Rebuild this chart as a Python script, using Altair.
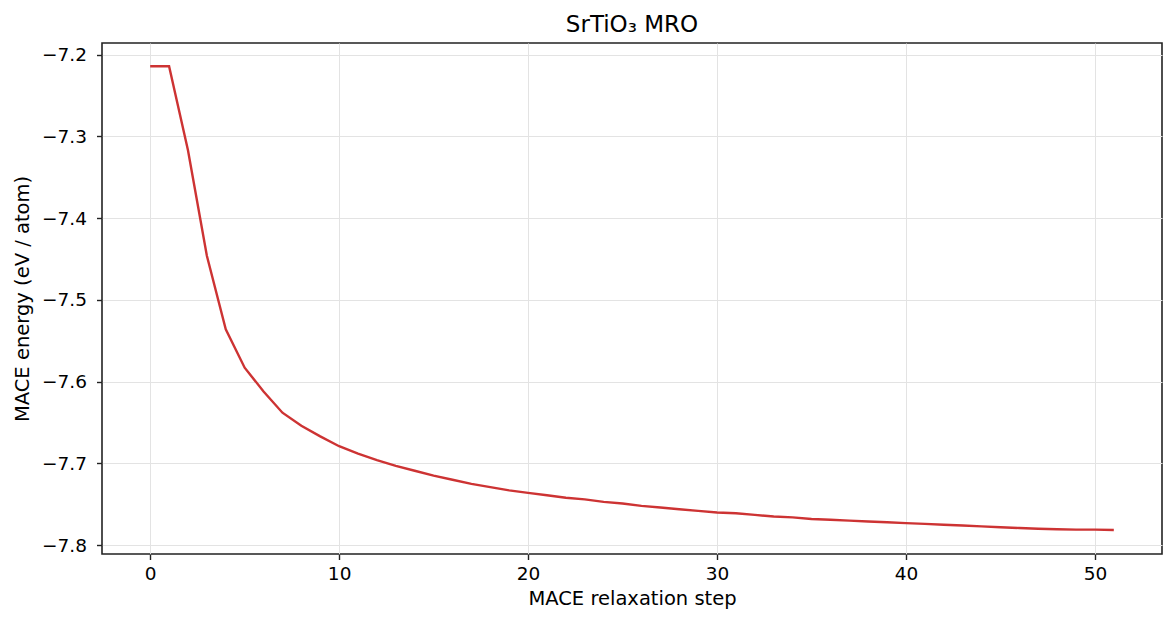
import altair as alt
import pandas as pd

# MACE relaxation trajectory: energy per atom at each optimizer step
steps = list(range(52))
energy = [
    -7.2143, -7.2143, -7.317, -7.446, -7.536, -7.583, -7.612, -7.638, -7.654, -7.667,
    -7.679, -7.688, -7.696, -7.703, -7.709, -7.715, -7.720, -7.725, -7.729, -7.733,
    -7.736, -7.739, -7.742, -7.744, -7.747, -7.749, -7.752, -7.754, -7.756, -7.758,
    -7.760, -7.761, -7.763, -7.765, -7.766, -7.768, -7.769, -7.770, -7.771, -7.772,
    -7.773, -7.774, -7.775, -7.776, -7.777, -7.778, -7.779, -7.780, -7.7805, -7.781,
    -7.781, -7.7815,
]
x_ticks = [0, 10, 20, 30, 40, 50]
y_ticks = [-7.8, -7.7, -7.6, -7.5, -7.4, -7.3, -7.2]

df = pd.DataFrame({"step": steps, "energy": energy})

font = "DejaVu Sans"

chart = (
    alt.Chart(df, title=alt.Title("SrTiO₃ MRO", fontSize=23, fontWeight="normal",
                                  font=font, color="#000", offset=6))
    .mark_line(color="#cd3333", strokeWidth=2.4)
    .encode(
        x=alt.X("step:Q",
                scale=alt.Scale(domain=[-2.55, 53.55], nice=False, zero=False),
                axis=alt.Axis(title="MACE relaxation step", values=x_ticks, format="d",
                              labelPadding=5, titlePadding=6)),
        y=alt.Y("energy:Q",
                scale=alt.Scale(domain=[-7.8108, -7.1859], nice=False, zero=False),
                axis=alt.Axis(title="MACE energy (eV / atom)", values=y_ticks, format=".1f",
                              labelPadding=10, titlePadding=9)),
    )
    .properties(width=1060, height=511,
                autosize=alt.AutoSizeParams(type="none"),
                padding={"left": 102, "top": 43, "right": 13, "bottom": 73})
    .configure_view(stroke="#222", strokeWidth=1.6)
    .configure_axis(
        labelFont=font, labelFontSize=18.5, labelColor="#000",
        titleFont=font, titleFontSize=19.5, titleFontWeight="normal", titleColor="#000",
        tickColor="#222", tickSize=5.5, tickWidth=1.4,
        domain=False, grid=True, gridColor="#e3e3e3", gridWidth=1,
    )
)

chart.save("out.html", embed_options={"renderer": "svg", "actions": False})
